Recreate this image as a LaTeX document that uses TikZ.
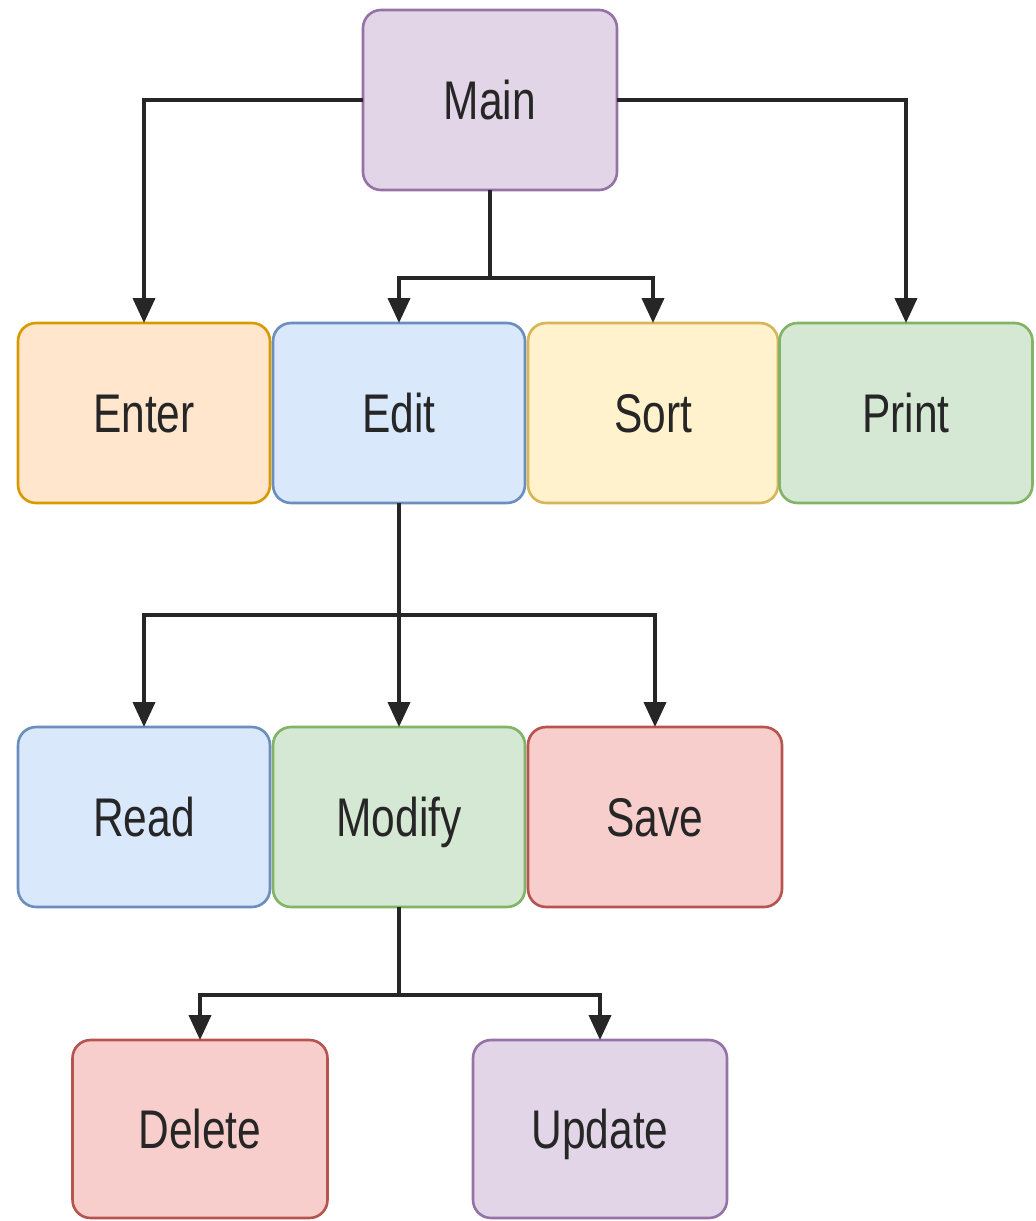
\documentclass[tikz,border=0pt]{standalone}
\usepackage{fontspec}
\setmainfont{Liberation Sans}
\usetikzlibrary{arrows.meta}
\definecolor{purF}{HTML}{E1D5E7}\definecolor{purD}{HTML}{9673A6}
\definecolor{oraF}{HTML}{FFE6CC}\definecolor{oraD}{HTML}{D79B00}
\definecolor{bluF}{HTML}{DAE8FC}\definecolor{bluD}{HTML}{6C8EBF}
\definecolor{yelF}{HTML}{FFF2CC}\definecolor{yelD}{HTML}{D6B656}
\definecolor{greF}{HTML}{D5E8D4}\definecolor{greD}{HTML}{82B366}
\definecolor{redF}{HTML}{F8CECC}\definecolor{redD}{HTML}{B85450}
\definecolor{lineC}{HTML}{262626}
\newcommand{\lbl}[1]{\raisebox{-11.2pt}[0pt][0pt]{\scalebox{0.78}[1]{\fontsize{31}{36}\selectfont #1}}}
\tikzset{
  box/.style={rounded corners=0.36cm, line width=1.5pt, minimum width=5.04cm, minimum height=3.6cm, inner sep=0pt, outer sep=0pt, text=black!85},
  arr/.style={draw=lineC, line width=2.2pt, -{Triangle[length=0.5cm,width=0.44cm]}},
  ln/.style={draw=lineC, line width=2.2pt}
}
\begin{document}
\begin{tikzpicture}[x=0.02cm,y=-0.02cm]
\useasboundingbox (0,0) rectangle (1035,1221);
\node[box, fill=purF, draw=purD, minimum width=5.08cm] (main) at (490,100) {\lbl{Main}};
\node[box, fill=oraF, draw=oraD] (enter) at (144,413) {\lbl{Enter}};
\node[box, fill=bluF, draw=bluD] (edit) at (399,413) {\lbl{Edit}};
\node[box, fill=yelF, draw=yelD, minimum width=5.0cm] (sort) at (653,413) {\lbl{Sort}};
\node[box, fill=greF, draw=greD, minimum width=5.06cm] (print) at (906,413) {\lbl{Print}};
\node[box, fill=bluF, draw=bluD] (read) at (144,817) {\lbl{Read}};
\node[box, fill=greF, draw=greD] (modify) at (399,817) {\lbl{Modify}};
\node[box, fill=redF, draw=redD, minimum width=5.08cm] (save) at (655,817) {\lbl{Save}};
\node[box, fill=redF, draw=redD, minimum width=5.1cm, minimum height=3.56cm] (delete) at (200,1129) {\lbl{Delete}};
\node[box, fill=purF, draw=purD, minimum width=5.08cm, minimum height=3.56cm] (update) at (600,1129) {\lbl{Update}};
\coordinate (j1) at (490,278);
\coordinate (j2) at (399,615);
\coordinate (j3) at (399,995);
\draw[arr] (main.west) -| (enter.north);
\draw[arr] (main.east) -| (print.north);
\draw[ln] (main.south) -- (j1);
\draw[arr] (j1) -| (edit.north);
\draw[arr] (j1) -| (sort.north);
\draw[arr] (edit.south) -- (modify.north);
\draw[arr] (j2) -| (read.north);
\draw[arr] (j2) -| (save.north);
\draw[ln] (modify.south) -- (j3);
\draw[arr] (j3) -| (delete.north);
\draw[arr] (j3) -| (update.north);
\end{tikzpicture}
\end{document}
